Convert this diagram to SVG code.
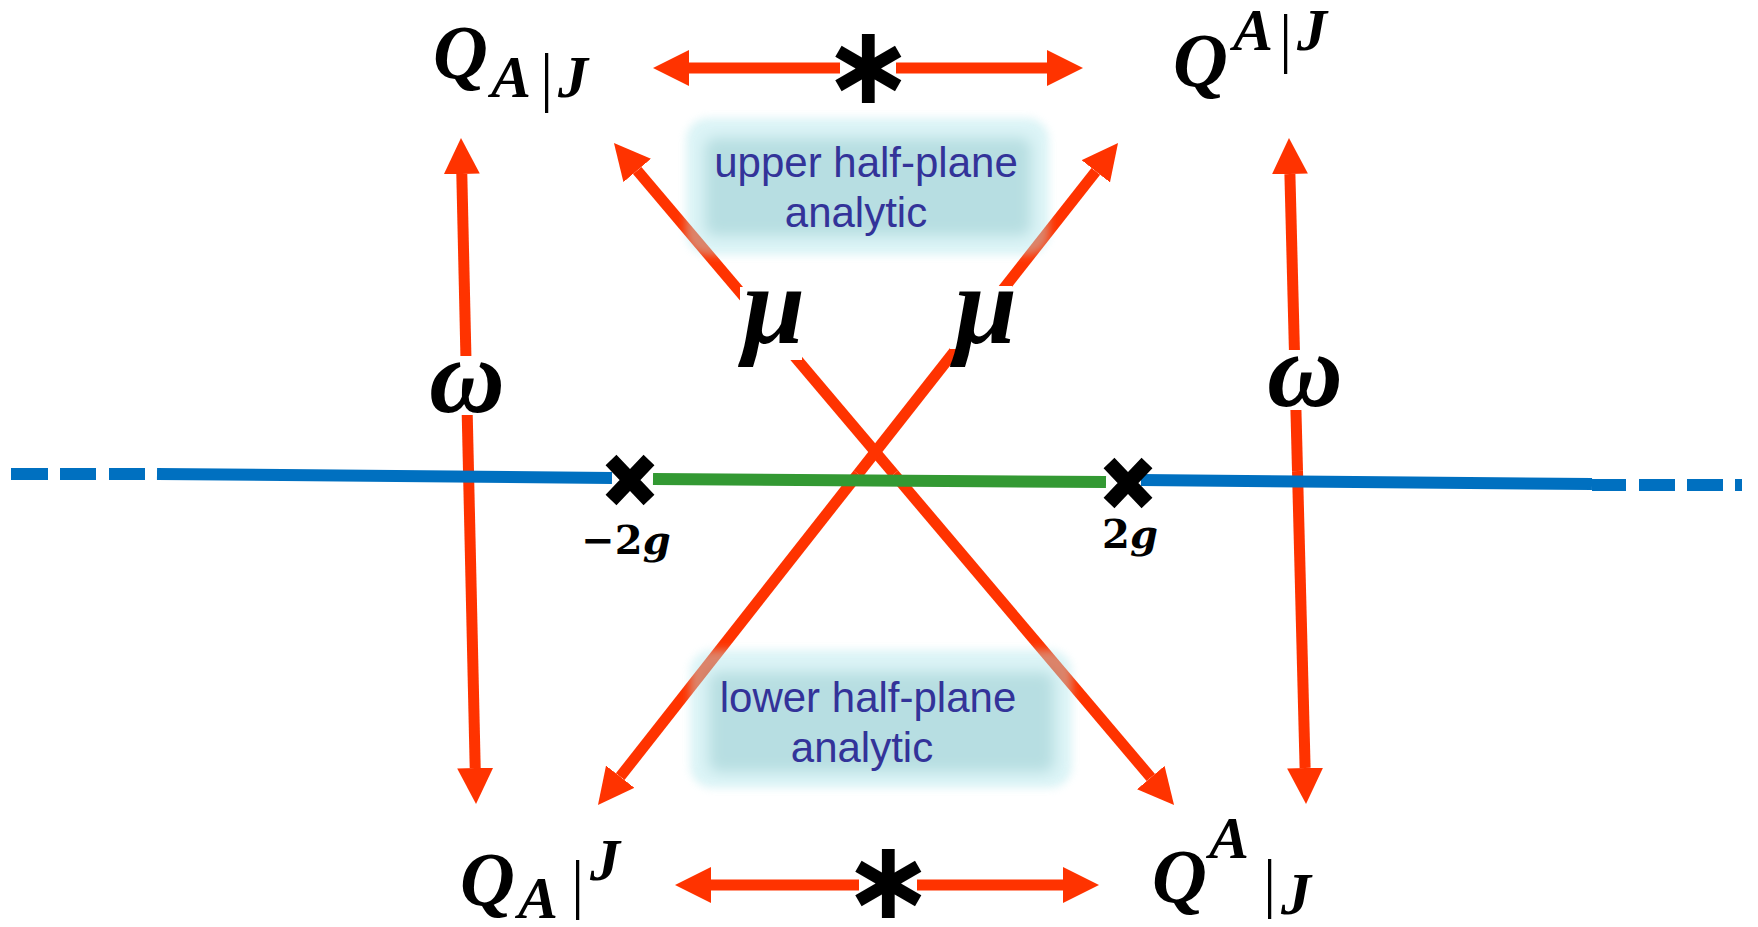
<svg xmlns="http://www.w3.org/2000/svg" width="1758" height="927" viewBox="0 0 1758 927">
<style>
.arr{stroke:#FF3300;stroke-width:11;fill:none}
.ax{stroke-width:12;fill:none;stroke-linecap:butt}
.blue{stroke:#0070C0}
.green{stroke:#339933}
.math{font-family:"Liberation Serif","DejaVu Serif",serif;font-style:italic;font-weight:bold;fill:#000}
.bar{font-style:normal;font-weight:normal}
.greek{font-family:"Liberation Serif","DejaVu Serif",serif;font-style:italic;font-weight:bold;fill:#000;text-anchor:middle}
.star{font-family:"DejaVu Sans",sans-serif;font-weight:bold;fill:#000;text-anchor:middle}
.lbl{font-family:"Liberation Sans",Arial,sans-serif;font-size:42px;fill:#333399;text-anchor:middle}
.pt{font-family:"DejaVu Serif",serif;font-weight:bold;font-size:40px;fill:#000;text-anchor:middle}
.cross{stroke:#000;stroke-width:15;fill:none}
.wh{fill:#fff}
</style>
<defs>
<marker id="ah" markerUnits="userSpaceOnUse" markerWidth="36" markerHeight="36" refX="0" refY="18" orient="auto" viewBox="0 0 36 36">
<path d="M0,0 L36,18 L0,36 z" fill="#FF3300"/>
</marker>
<filter id="soft" x="-10%" y="-20%" width="120%" height="140%"><feGaussianBlur stdDeviation="4"/></filter>
<filter id="soft2" x="-10%" y="-20%" width="120%" height="140%"><feGaussianBlur stdDeviation="7"/></filter>
</defs>

<g id="connectors">
<path class="arr" d="M840,68 L689,68" marker-end="url(#ah)"/>
<path class="arr" d="M896,68 L1047,68" marker-end="url(#ah)"/>
<path class="arr" d="M859,885 L711,885" marker-end="url(#ah)"/>
<path class="arr" d="M917,885 L1063,885" marker-end="url(#ah)"/>
<path class="arr" d="M468.5,471 L461.8,174" marker-end="url(#ah)"/>
<path class="arr" d="M468.5,471 L475.2,768" marker-end="url(#ah)"/>
<path class="arr" d="M1297.5,471 L1289.9,174" marker-end="url(#ah)"/>
<path class="arr" d="M1297.5,471 L1305.1,768" marker-end="url(#ah)"/>
<path class="arr" d="M894,474 L637.2,170.5" marker-end="url(#ah)"/>
<path class="arr" d="M894,474 L1150.8,777.5" marker-end="url(#ah)"/>
<path class="arr" d="M858,474 L620.2,776.7" marker-end="url(#ah)"/>
<path class="arr" d="M858,474 L1095.8,171.3" marker-end="url(#ah)"/>
<rect class="wh" x="430" y="356" width="76" height="59"/>
<rect class="wh" x="1266" y="350" width="78" height="60"/>
<rect class="wh" x="740" y="287" width="62" height="73"/>
<rect class="wh" x="950" y="286" width="62" height="63"/>
<path class="ax blue" d="M11,474 H48 M60,474 H96 M109,474 H145"/>
<path class="ax blue" d="M157,474 L612,478"/>
<path class="ax green" d="M653,479 L1106,482"/>
<path class="ax blue" d="M1141,480 L1592,484"/>
<path class="ax blue" d="M1592,485 H1626 M1639,485 H1675 M1687,485 H1723 M1735,485 H1742"/>
</g>

<g id="upper-box">
<g opacity="0.45">
<rect x="686" y="118" width="363" height="137" rx="22" fill="rgb(178,231,236)" filter="url(#soft)"/>
<rect x="705" y="138" width="326" height="98" rx="10" fill="rgb(98,184,191)" filter="url(#soft2)"/>
</g>
<text class="lbl" x="866" y="177">upper half-plane</text>
<text class="lbl" x="856" y="227">analytic</text>
</g>

<g id="lower-box">
<g opacity="0.45">
<rect x="690" y="650" width="382" height="138" rx="22" fill="rgb(178,231,236)" filter="url(#soft)"/>
<rect x="709" y="672" width="345" height="100" rx="10" fill="rgb(98,184,191)" filter="url(#soft2)"/>
</g>
<text class="lbl" x="868" y="712">lower half-plane</text>
<text class="lbl" x="862" y="762">analytic</text>
</g>

<g id="node-Q-lower-AJ">
<text class="math"><tspan x="433" y="78" font-size="76">Q</tspan><tspan x="491" y="97" font-size="60">A</tspan><tspan class="bar" x="540" y="99" font-size="66">|</tspan><tspan x="558" y="97" font-size="60">J</tspan></text>
</g>
<g id="node-Q-upper-AJ">
<text class="math"><tspan x="1173" y="86" font-size="76">Q</tspan><tspan x="1233" y="50" font-size="60">A</tspan><tspan class="bar" x="1279" y="60" font-size="66">|</tspan><tspan x="1297" y="50" font-size="60">J</tspan></text>
</g>
<g id="node-Q-A-upperJ">
<text class="math"><tspan x="460" y="905" font-size="76">Q</tspan><tspan x="518" y="918" font-size="60">A</tspan><tspan class="bar" x="571" y="906" font-size="66">|</tspan><tspan x="590" y="880" font-size="60">J</tspan></text>
</g>
<g id="node-Q-upperA-J">
<text class="math"><tspan x="1152" y="902" font-size="76">Q</tspan><tspan x="1209" y="858" font-size="60">A</tspan><tspan class="bar" x="1263" y="905" font-size="66">|</tspan><tspan x="1281" y="914" font-size="60">J</tspan></text>
</g>

<g id="labels">
<text class="star" x="868" y="103" font-size="110">∗</text>
<text class="star" x="888" y="918" font-size="110">∗</text>
<text class="greek" x="467" y="412" font-size="105">ω</text>
<text class="greek" x="1305" y="406" font-size="105">ω</text>
<text class="greek" x="774" y="343" font-size="112">μ</text>
<text class="greek" x="986" y="343" font-size="112">μ</text>
</g>

<g id="branch-points">
<path class="cross" d="M611,460 L649,500 M649,460 L611,500"/>
<path class="cross" d="M1109,463 L1147,503 M1147,463 L1109,503"/>
<text class="pt" x="626" y="554">−2<tspan font-style="italic">g</tspan></text>
<text class="pt" x="1130" y="548">2<tspan font-style="italic">g</tspan></text>
</g>
</svg>
